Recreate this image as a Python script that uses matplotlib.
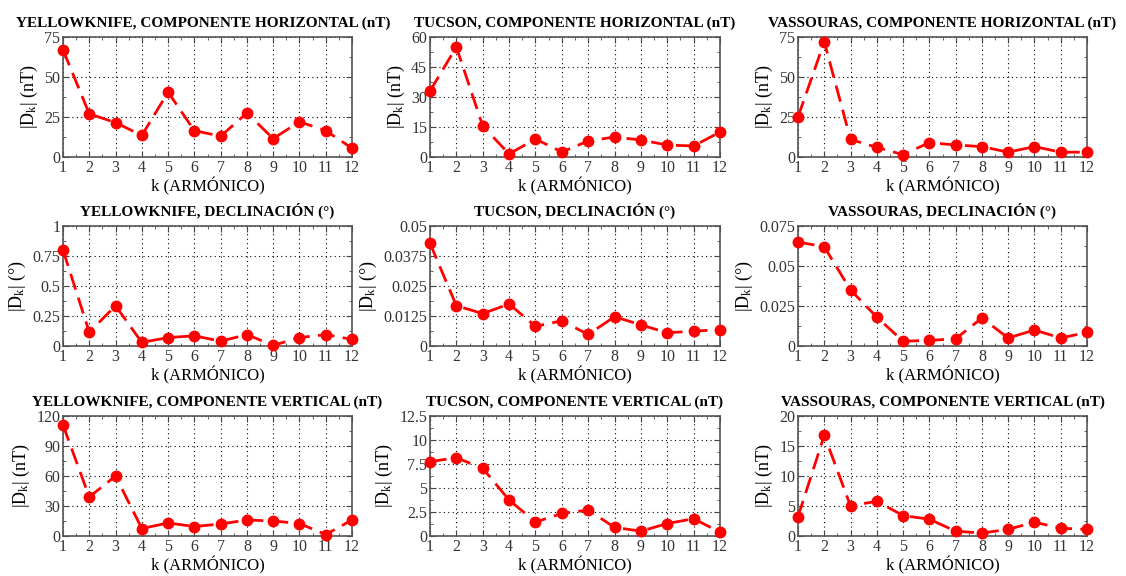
import numpy as np
import matplotlib
matplotlib.use("Agg")
import matplotlib.pyplot as plt
from matplotlib.ticker import MultipleLocator, FuncFormatter

plt.rcParams['font.family'] = ['Liberation Serif', 'DejaVu Serif']
plt.rcParams['mathtext.fontset'] = 'custom'
plt.rcParams['mathtext.rm'] = 'Liberation Serif'
plt.rcParams['mathtext.it'] = 'Liberation Serif'
plt.rcParams['mathtext.default'] = 'regular'

k = np.arange(1, 13)

# amplitudes |D_k|
yk_h = [67, 27, 21.5, 13.5, 40.5, 16.5, 13, 27.5, 11.5, 22, 16.5, 5.5]
tu_h = [33, 55, 15.5, 1.5, 9, 2.5, 8, 10, 8.5, 6, 5.5, 12.5]
va_h = [25, 72, 11, 6, 1.5, 9, 7.5, 6.5, 3, 6.5, 3, 3]

yk_d = [0.80, 0.115, 0.335, 0.03, 0.07, 0.085, 0.04, 0.095, 0.005, 0.07, 0.095, 0.055]
tu_d = [0.0428, 0.0168, 0.0135, 0.0175, 0.0082, 0.0105, 0.0048, 0.0122, 0.0088, 0.0055, 0.0062, 0.0068]
va_d = [0.065, 0.062, 0.035, 0.018, 0.003, 0.0035, 0.0045, 0.0175, 0.005, 0.010, 0.005, 0.0085]

yk_v = [111, 39, 60, 7.5, 13, 9.5, 12, 16, 15, 12.5, 1.5, 16]
tu_v = [7.75, 8.15, 7.05, 3.75, 1.45, 2.35, 2.7, 0.9, 0.5, 1.3, 1.8, 0.4]
va_v = [3.2, 16.8, 5.0, 5.8, 3.4, 2.8, 0.8, 0.5, 1.1, 2.3, 1.3, 1.1]

panels = [
    ("YELLOWKNIFE, COMPONENTE HORIZONTAL (nT)", yk_h, 75, 25, "nT"),
    ("TUCSON, COMPONENTE HORIZONTAL (nT)", tu_h, 60, 15, "nT"),
    ("VASSOURAS, COMPONENTE HORIZONTAL (nT)", va_h, 75, 25, "nT"),
    ("YELLOWKNIFE, DECLINACIÓN (°)", yk_d, 1, 0.25, "°"),
    ("TUCSON, DECLINACIÓN (°)", tu_d, 0.05, 0.0125, "°"),
    ("VASSOURAS, DECLINACIÓN (°)", va_d, 0.075, 0.025, "°"),
    ("YELLOWKNIFE, COMPONENTE VERTICAL (nT)", yk_v, 120, 30, "nT"),
    ("TUCSON, COMPONENTE VERTICAL (nT)", tu_v, 12.5, 2.5, "nT"),
    ("VASSOURAS, COMPONENTE VERTICAL (nT)", va_v, 20, 5, "nT"),
]

W, H = 1126, 576
fig = plt.figure(figsize=(W / 100, H / 100), dpi=100)

lefts = [63, 430, 798]
rights = [352, 720, 1087]
tops = [37, 226, 416]
bottoms = [157, 346, 536]

for i, (title, vals, ymax, ystep, unit) in enumerate(panels):
    r, c = divmod(i, 3)
    ax = fig.add_axes([lefts[c] / W, 1 - bottoms[r] / H,
                       (rights[c] - lefts[c]) / W, (bottoms[r] - tops[r]) / H])
    ax.plot(k, vals, color='red', linestyle=(0, (6, 3)), linewidth=2,
            marker='o', markersize=7.5, clip_on=False, zorder=3)
    ax.set_xlim(1, 12)
    ax.set_ylim(0, ymax)
    ax.xaxis.set_major_locator(MultipleLocator(1))
    ax.xaxis.set_minor_locator(MultipleLocator(0.5))
    ax.yaxis.set_major_locator(MultipleLocator(ystep))
    ax.yaxis.set_minor_locator(MultipleLocator(ystep / 2))
    ax.yaxis.set_major_formatter(FuncFormatter(lambda v, p: "%g" % round(v, 6)))
    ax.grid(True, which='major', color='black', linestyle=(0, (1, 3)), linewidth=0.8)
    ax.tick_params(which='both', direction='in', top=True, right=True,
                   labelsize=11.5, pad=2, color='#444444', labelcolor='#333333')
    ax.tick_params(which='major', length=4)
    ax.tick_params(which='minor', length=2)
    for s in ax.spines.values():
        s.set_color('#555555')
        s.set_linewidth(1.2)
    # first panel title sits a bit left so it fits inside the figure
    tx = 0.485 if i == 0 else 0.5
    ax.set_title(title, fontsize=11.0, fontweight='bold', pad=7, x=tx)
    ax.set_xlabel("k (ARMÓNICO)", fontsize=12, labelpad=1)
    ax.set_ylabel("|D$_k$| (%s)" % unit, fontsize=13, labelpad=3)

fig.savefig("out.png", dpi=100)
